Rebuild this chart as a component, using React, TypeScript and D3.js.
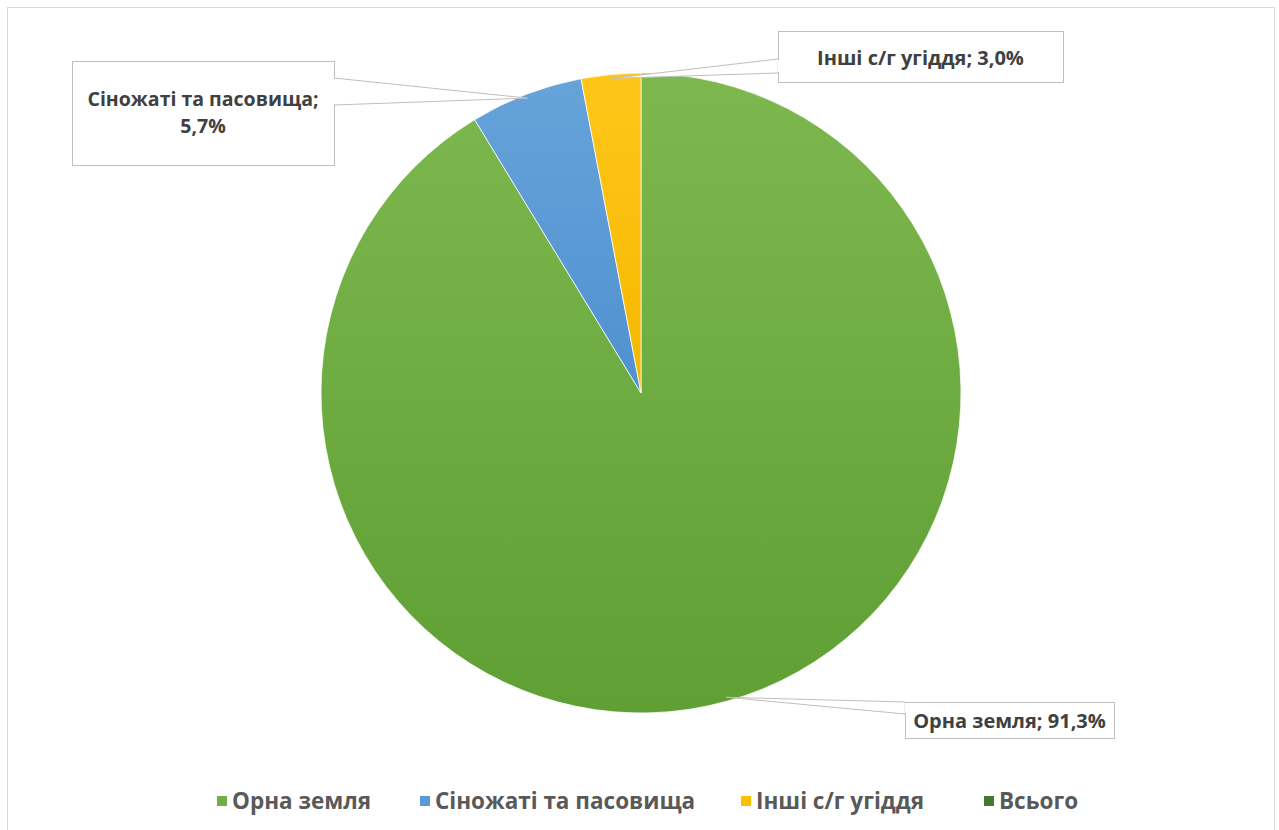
import React from "react";
import * as d3 from "d3";

const categories = ["Орна земля", "Сіножаті та пасовища", "Інші с/г угіддя", "Всього"];
const values = [91.3, 5.7, 3.0, 0];
const labelTexts = [["Орна земля; 91,3%"], ["Сіножаті та пасовища;", "5,7%"], ["Інші с/г угіддя; 3,0%"], []];
const colors = ["#70ad47", "#5b9bd5", "#ffc000", "#43782d"];
const gradTop = ["#7db84f", "#66a3da", "#ffc61a", "#43782d"];
const gradBottom = ["#5f9f33", "#4f91cf", "#f5b800", "#43782d"];

const W = 1279;
const H = 830;
const cx = 641;
const cy = 393;
const R = 320;
const FONT = "'Open Sans', sans-serif";

const boxes: Record<number, { x: number; y: number; w: number; h: number; b0: number; b1: number; side: "l" | "r" }> = {
  0: { x: 905, y: 702, w: 209, h: 36, b0: 702, b1: 714, side: "l" },
  1: { x: 72, y: 61, w: 262, h: 104, b0: 78, b1: 105, side: "r" },
  2: { x: 778, y: 31, w: 285, h: 51, b0: 59, b1: 73, side: "l" },
};
const legendX = [217, 420, 741, 984];

export default function App() {
  const pie = d3.pie<number>().sort(null).value((d) => d).startAngle(0).endAngle(2 * Math.PI);
  const arcs = pie(values);
  const arc = d3.arc<d3.PieArcDatum<number>>().innerRadius(0).outerRadius(R);

  return (
    <svg width={W} height={H} style={{ position: "absolute", left: 0, top: 0, background: "#fff" }}>
      <defs>
        {colors.map((c, i) => (
          <linearGradient key={i} id={`g${i}`} x1="0" y1="0" x2="0" y2="1">
            <stop offset="0" stopColor={gradTop[i]} />
            <stop offset="1" stopColor={gradBottom[i]} />
          </linearGradient>
        ))}
      </defs>
      <rect x={7.5} y={7.5} width={1267} height={840} fill="#fff" stroke="#d9d9d9" strokeWidth={1} />
      <g transform={`translate(${cx},${cy})`}>
        {arcs.map((a, i) =>
          a.value > 0 ? (
            <path key={i} d={arc(a) || ""} fill={`url(#g${i})`} stroke="#fff" strokeWidth={0.75} />
          ) : null
        )}
      </g>
      {arcs.map((a, i) => {
        const b = boxes[i];
        if (!b || a.value <= 0) return null;
        const mid = (a.startAngle + a.endAngle) / 2;
        const tx = cx + (R - 4) * Math.sin(mid);
        const ty = cy - (R - 4) * Math.cos(mid);
        const ex = b.side === "l" ? b.x : b.x + b.w;
        const lines = labelTexts[i];
        const lh = 27;
        const ty0 = b.y + b.h / 2 - ((lines.length - 1) * lh) / 2 + (lines.length > 1 ? 0 : 1);
        return (
          <g key={i}>
            <polygon points={`${tx},${ty} ${ex},${b.b0} ${ex},${b.b1}`} fill="#fff" stroke="#bfbfbf" strokeWidth={1} />
            <rect x={b.x + 0.5} y={b.y + 0.5} width={b.w} height={b.h} fill="#fff" stroke="#bfbfbf" strokeWidth={1} />
            <line x1={ex + 0.5} x2={ex + 0.5} y1={b.b0 + 1} y2={b.b1 - 1} stroke="#fff" strokeWidth={2} />
            {lines.map((t, k) => (
              <text key={k} x={b.x + b.w / 2} y={ty0 + k * lh} dy="0.35em" textAnchor="middle"
                fontFamily={FONT} fontWeight={700} fontSize={lines.length > 1 ? 19.5 : 20} fill="#404040">{t}</text>
            ))}
          </g>
        );
      })}
      {categories.map((c, i) => (
        <g key={c} transform={`translate(${legendX[i]},801)`}>
          <rect x={0} y={-5} width={10} height={10} fill={colors[i]} />
          <text x={15} y={0} dy="0.35em" fontFamily={FONT} fontWeight={700} fontSize={22.5} fill="#595959">{c}</text>
        </g>
      ))}
    </svg>
  );
}
